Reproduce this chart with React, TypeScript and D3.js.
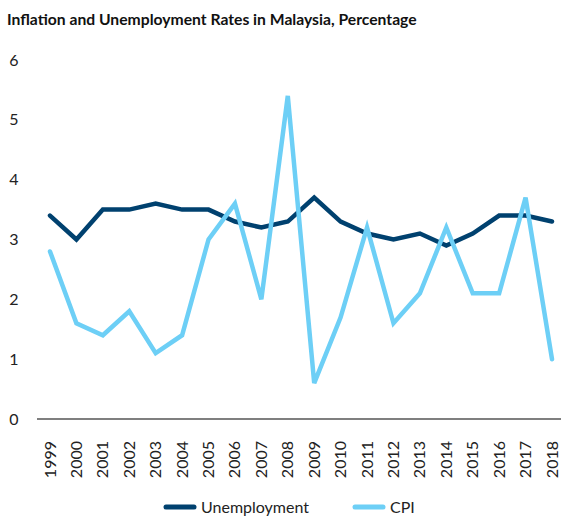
import React from "react";
import * as d3 from "d3";

const years = ["1999","2000","2001","2002","2003","2004","2005","2006","2007","2008","2009","2010","2011","2012","2013","2014","2015","2016","2017","2018"];
const unemployment = [3.4,3.0,3.5,3.5,3.6,3.5,3.5,3.3,3.2,3.3,3.7,3.3,3.1,3.0,3.1,2.9,3.1,3.4,3.4,3.3];
const cpi = [2.8,1.6,1.4,1.8,1.1,1.4,3.0,3.6,2.0,5.4,0.6,1.7,3.2,1.6,2.1,3.2,2.1,2.1,3.7,1.0];
const yTicks = [0,1,2,3,4,5,6];
const seriesNames = ["Unemployment","CPI"];
const colors = ["#00416f","#6dcff6"];

export default function App() {
  const W = 561, H = 516;
  const x = d3.scalePoint<string>().domain(years).range([50, 552]);
  const y = d3.scaleLinear().domain([0, 6]).range([419, 60]);
  const line = d3.line<number>().x((_, i) => x(years[i])!).y(d => y(d));
  const font = "Lato, 'Noto Sans', sans-serif";
  const series = [unemployment, cpi];
  const legendX = [166, 355];
  return (
    <svg width={W} height={H} style={{ position: "absolute", left: 0, top: 0 }} fontFamily={font}>
      <text x={7} y={25} fontSize={15.7} fontWeight="bold" fill="#111">Inflation and Unemployment Rates in Malaysia, Percentage</text>
      {yTicks.map(t => (
        <text key={t} x={14} y={y(t)} dy="0.35em" textAnchor="middle" fontSize={16} fill="#222">{t}</text>
      ))}
      <line x1={37} x2={561} y1={y(0)} y2={y(0)} stroke="#555" strokeWidth={1.5} />
      {years.map(yr => (
        <text key={yr} transform={`translate(${x(yr)! + 5.5},${441}) rotate(-90)`} textAnchor="end" fontSize={16} fill="#222">{yr}</text>
      ))}
      {series.map((s, i) => (
        <path key={i} d={line(s)!} fill="none" stroke={colors[i]} strokeWidth={4.5} strokeLinejoin="miter" strokeLinecap="round" />
      ))}
      {seriesNames.map((n, i) => (
        <g key={n}>
          <line x1={legendX[i]} x2={legendX[i] + 28} y1={507} y2={507} stroke={colors[i]} strokeWidth={5} strokeLinecap="round" />
          <text x={legendX[i] + 35} y={507} dy="0.35em" fontSize={16} fill="#222">{n}</text>
        </g>
      ))}
    </svg>
  );
}
